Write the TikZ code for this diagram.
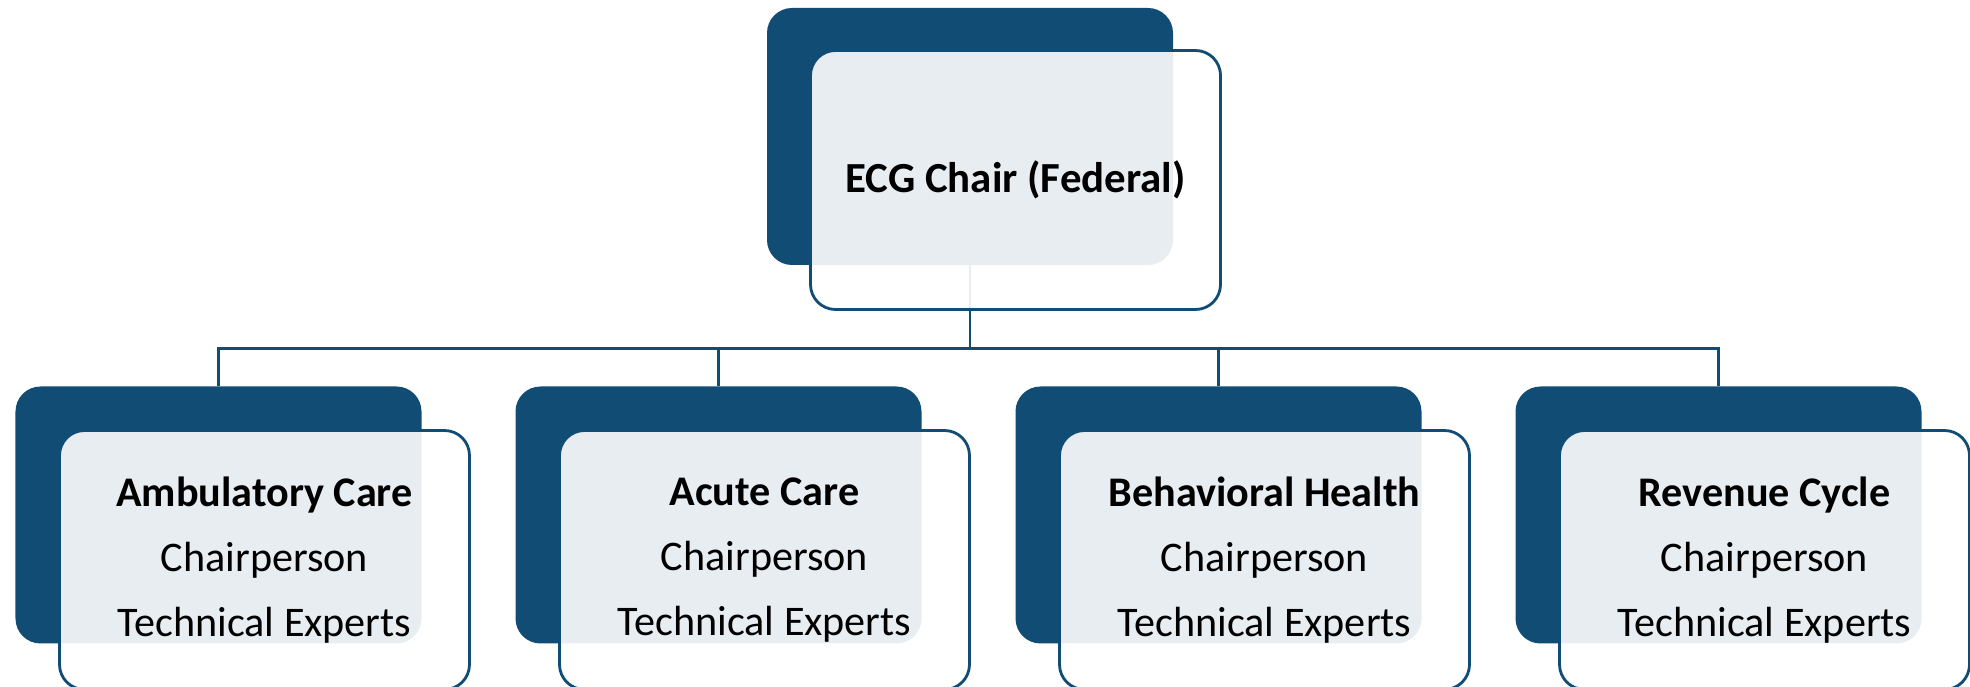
\documentclass[tikz,border=0pt]{standalone}
\usepackage{fontspec}
\setmainfont{Carlito}
\usepackage{xcolor}
\usepackage{tikz}
\usetikzlibrary{positioning,calc}
\definecolor{ecgnavy}{HTML}{114C75}
\tikzset{%
darkbox/.style={rectangle,rounded corners=0.5cm,fill=ecgnavy,minimum width=8.12cm,minimum height=5.14cm},%
frontbox/.style={rectangle,rounded corners=0.5cm,draw=ecgnavy,line width=1.6pt,fill=white,fill opacity=0.9,text opacity=1,text=black,align=center,minimum width=8.2cm,minimum height=5.18cm,font=\fontsize{24}{37}\selectfont},%
conn/.style={draw=ecgnavy,line width=1.6pt}%
}
\begin{document}
\begin{tikzpicture}%
\useasboundingbox (0,0) rectangle (39.4,13.74);%
\node[darkbox] (chair_bg) at (19.4,11.01) {};%
\node[darkbox] (amb_bg) at (4.37,3.44) {};%
\node[darkbox] (acute_bg) at (14.37,3.44) {};%
\node[darkbox] (beh_bg) at (24.37,3.44) {};%
\node[darkbox] (rev_bg) at (34.37,3.44) {};%
\draw[conn] (chair_bg.south) -- ++(0,-1.66) coordinate (bus);%
\draw[conn] (amb_bg.north) |- (bus) -| (rev_bg.north);%
\draw[conn] (acute_bg.north) -- (acute_bg.north |- bus);%
\draw[conn] (beh_bg.north) -- (beh_bg.north |- bus);%
\node[frontbox,font=\fontsize{24.4}{29}\selectfont\bfseries] (chair) at ($(chair_bg)+(0.91,-0.87)$) {ECG Chair (Federal)};%
\node[frontbox] (amb) at ($(amb_bg)+(0.92,-0.9)$) {\textbf{Ambulatory Care}\\Chairperson\\Technical Experts};%
\node[frontbox] (acute) at ($(acute_bg)+(0.92,-0.9)$) {\textbf{Acute Care}\\Chairperson\\Technical Experts};%
\node[frontbox] (beh) at ($(beh_bg)+(0.92,-0.9)$) {\textbf{Behavioral Health}\\Chairperson\\Technical Experts};%
\node[frontbox] (rev) at ($(rev_bg)+(0.92,-0.9)$) {\textbf{Revenue Cycle}\\Chairperson\\Technical Experts};%
\end{tikzpicture}
\end{document}
